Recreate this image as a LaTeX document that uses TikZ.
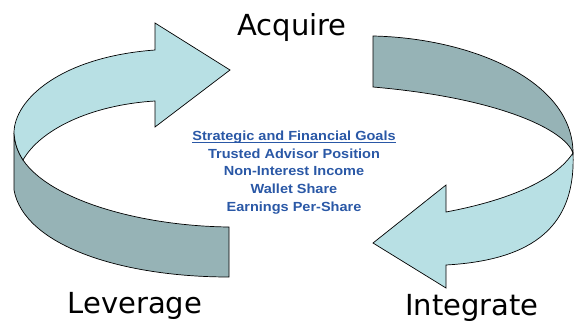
\documentclass[tikz,border=0pt]{standalone}
\usepackage{fontspec}
\setmainfont{DejaVu Sans}
\newfontfamily\goalfont[FakeStretch=1.1]{Liberation Sans}
\usepackage{tikz}
\usepackage{xcolor}
\definecolor{bandlight}{HTML}{B8E0E4}
\definecolor{banddark}{HTML}{96B3B6}
\definecolor{goalblue}{HTML}{2A58A6}
\usetikzlibrary{positioning}

% underline that sits just under the baseline
\newsavebox{\goalbox}
\newcommand{\goalline}[1]{\sbox{\goalbox}{#1}%
    \rlap{\rule[-1.8pt]{\wd\goalbox}{0.8pt}}\usebox{\goalbox}}

\begin{document}
\begin{tikzpicture}[
        x=1pt, y=-1pt,
        front/.style = {draw=black, line width=0.7pt, fill=bandlight, line join=miter},
        back/.style  = {draw=black, line width=0.7pt, fill=banddark, line join=miter},
        stage/.style = {font=\fontsize{29}{34}\selectfont, anchor=base, inner sep=0pt},
        goals/.style = {font=\goalfont\bfseries\fontsize{13.2}{17.6}\selectfont,
                        text=goalblue, align=center, anchor=base, inner sep=0pt}
    ]
        \useasboundingbox (0,0) rectangle (574,322);

        % ---- left band (Leverage -> Acquire) ----
        \draw[back] (14,133) -- (14,190)
            .. controls (24,245) and (120,277) .. (229,277) -- (229,227)
            .. controls (140,226) and (50,200) .. (23,160)
            .. controls (18,152) and (15,145) .. cycle;
        \draw[front] (155,101) .. controls (90,105) and (40,130) .. (23,160)
            .. controls (18,152) and (15,145) .. (14,133)
            .. controls (14,100) and (60,57) .. (155,50)
            -- (155,23) -- (230,70) -- (155,127) -- cycle;

        % ---- right band (Acquire -> Integrate) ----
        \draw[back] (373,36) .. controls (470,38) and (573,80) .. (573,153)
            .. controls (565,130) and (500,98) .. (373,87) -- cycle;
        \draw[front] (446,212) .. controls (510,200) and (555,180) .. (573,153)
            .. controls (576,225) and (535,260) .. (446,265)
            -- (446,288) -- (373,243) -- (446,185) -- cycle;

        % ---- labels ----
        \node[stage] (acq)  at (292,35)  {Acquire};
        \node[stage] (lev)  at (135,313) {Leverage};
        \node[stage] (intg) at (472,315) {Integrate};

        % base anchor sits on the last line
        \node[goals] (goals) at (294,211)
            {\goalline{Strategic and Financial Goals}\\
             Trusted Advisor Position\\
             Non-Interest Income\\
             Wallet Share\\
             Earnings Per-Share};
    \end{tikzpicture}
\end{document}
